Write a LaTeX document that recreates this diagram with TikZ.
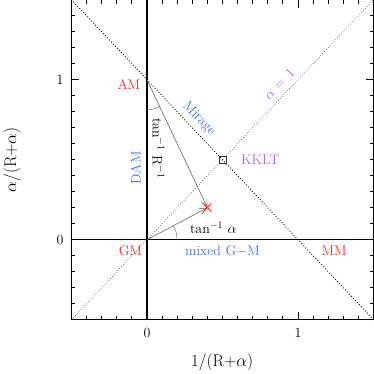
\documentclass[tikz,border=0pt]{standalone}
\usepackage{tikz}
\usetikzlibrary{shapes, arrows, arrows.meta, positioning}
\definecolor{limred}{RGB}{255,35,35}
\definecolor{limblue}{RGB}{70,110,255}
\definecolor{limpurple}{RGB}{180,95,250}

\begin{document}
\begin{tikzpicture}[x=151bp,y=160bp,font=\fontsize{14}{16}\selectfont]
            \tikzset{edge/.style = {->,> = {Straight Barb[length=7bp,width=6bp]}, draw=black!60, line width=0.6pt},
                     anglearc/.style = {draw=black!55, line width=0.5pt},
                     redlab/.style = {text=limred},
                     bluelab/.style = {text=limblue},
                     purplelab/.style = {text=limpurple}}
            \useasboundingbox (-0.9735,-0.8394) rectangle (1.5033,1.4981);
            % corners and points
            \coordinate (bl) at (-0.5,-0.5);
            \coordinate (br) at (1.5,-0.5);
            \coordinate (tl) at (-0.5,1.5);
            \coordinate (tr) at (1.5,1.5);
            \coordinate (xaxl) at (-0.5,0);
            \coordinate (xaxr) at (1.5,0);
            \coordinate (yaxb) at (0,-0.5);
            \coordinate (yaxt) at (0,1.5);
            \coordinate (pam) at (0,1);
            \coordinate (pgm) at (0,0);
            \coordinate (px) at (0.4,0.2);
            \coordinate (pkklt) at (0.5,0.5);
            % labels
            \node[redlab] (am) at (-0.12,0.97) {AM};
            \node[redlab] (gm) at (-0.11,-0.07) {GM};
            \node[redlab] (mm) at (1.24,-0.07) {MM};
            \node[bluelab] (mixed) at (0.5,-0.07) {mixed G$-$M};
            \node[bluelab,rotate=90] (dam) at (-0.075,0.45) {DAM};
            \node[bluelab,rotate=-46.7] (mirage) at (0.345,0.755) {Mirage};
            \node[purplelab,rotate=46.7] (alphaone) at (0.875,0.975) {$\alpha$ = \,1};
            \node[purplelab] (kklt) at (0.75,0.5) {KKLT};
            \node[rotate=-90] (tanr) at (0.075,0.57) {tan$^{-1}$ R$^{-1}$};
            \node[] (tana) at (0.44,0.075) {tan$^{-1}$ $\alpha$};
            \node[] (xt0) at (0,-0.585) {0};
            \node[] (xt1) at (1,-0.585) {1};
            \node[] (yt0) at (-0.576,0) {0};
            \node[] (yt1) at (-0.576,1) {1};
            \node[font=\fontsize{17}{19}\selectfont] (xlab) at (0.497,-0.764) {1/(R+$\alpha$)};
            \node[font=\fontsize{17}{19}\selectfont,rotate=90] (ylab) at (-0.894,0.498) {$\alpha$/(R+$\alpha$)};
            %lines
            \draw[dotted,line width=0.9pt] (tl) to (br);
            \draw[dotted,line width=0.7pt,black!65] (bl) to (tr);
            \draw[line width=1.6pt] (xaxl) to (xaxr);
            \draw[line width=1.6pt] (yaxb) to (yaxt);
            \draw[line width=1.3pt] (bl) rectangle (tr);
            % ticks
            \foreach \i in {-4,...,14} {
                \pgfmathsetmacro\len{or(\i==0,\i==10) ? 8 : 4}
                \draw[line width=0.9pt] (\i/10,-0.5) -- ++(0,\len bp);
                \draw[line width=0.9pt] (\i/10,1.5) -- ++(0,-\len bp);
                \draw[line width=0.9pt] (-0.5,\i/10) -- ++(\len bp,0);
                \draw[line width=0.9pt] (1.5,\i/10) -- ++(-\len bp,0);
            }
            %edges
            \draw[edge] (pam) to (px);
            \draw[edge] (pgm) to (px);
            \draw[anglearc] (pam) ++(-90:30bp) arc (-90:-64.7:30bp);
            \draw[anglearc] (pgm) ++(0:30bp) arc (0:27.9:30bp);
            % markers
            \draw[limred,line width=0.9pt] (px) ++(-4bp,-4bp) -- ++(8bp,8bp)
                                           (px) ++(-4bp,4bp) -- ++(8bp,-8bp);
            \draw[black!80,line width=0.7pt] (pkklt) ++(-3.5bp,-3.5bp) rectangle ++(7bp,7bp);
        \end{tikzpicture}
\end{document}
